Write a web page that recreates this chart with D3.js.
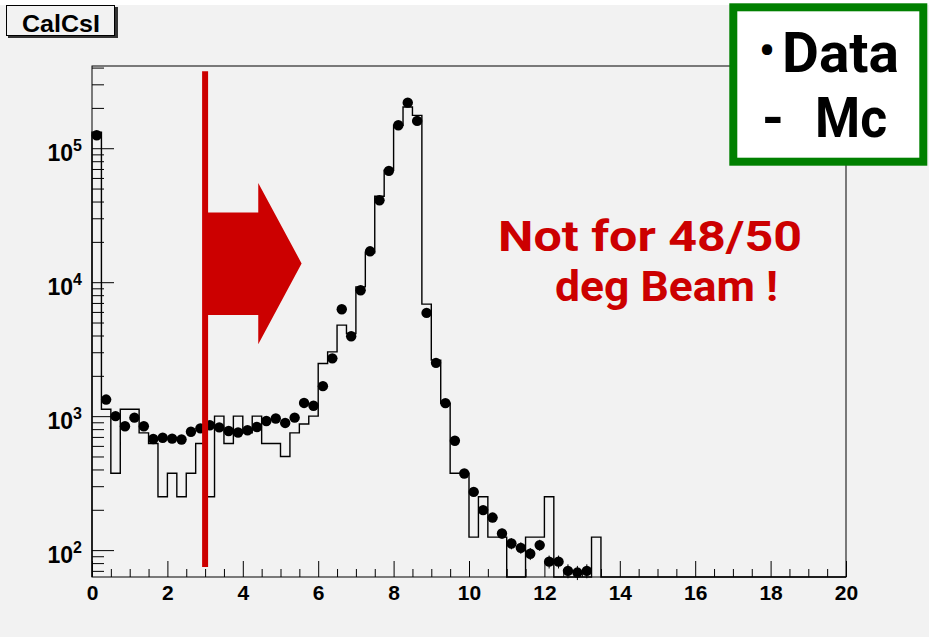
<!DOCTYPE html>
<html>
<head>
<meta charset="utf-8">
<script src="https://cdn.jsdelivr.net/npm/d3@7"></script>
<style>
  body { margin: 0; background: #fff; }
  svg { display: block; }
</style>
</head>
<body>
<svg id="chart" width="929" height="637"></svg>
<script>
// histogram binning: 80 bins of 0.25 from 0 to 20
var binWidth = 0.25, nBins = 80;

// data counts per bin (bins 0..52, nothing after)
var dataCounts = [125000, 1330, 1000, 840, 975, 840, 675, 690, 680, 670,
  765, 810, 855, 825, 775, 755, 785, 830, 920, 960,
  890, 975, 1255, 1195, 1675, 2700, 6280, 3950, 8700, 17000,
  40900, 67800, 148500, 219000, 160000, 5900, 2500, 1250, 655, 373,
  272, 199, 175, 133, 112, 104, 94, 109, 82, 82,
  70, 68, 70];

// MC (scaled) per bin, bins 0..53, rest empty
var mcCounts = [132000, 1125, 375, 1125, 1125, 750, 625, 250, 375, 250,
  375, 625, 250, 1000, 625, 1000, 750, 1000, 625, 625,
  500, 750, 875, 1000, 2470, 3020, 4780, 4140, 9230, 16600,
  43800, 68500, 148500, 203000, 176000, 6860, 2620, 1250, 375, 375,
  125, 250, 125, 125, 0, 0, 125, 125, 250, 0,
  0, 0, 0, 125];

var xMajor = [0, 2, 4, 6, 8, 10, 12, 14, 16, 18, 20];
var yMajor = [100, 1000, 10000, 100000];
var yExp = {100: "2", 1000: "3", 10000: "4", 100000: "5"};

var svg = d3.select("#chart");
var W = 929, H = 637;
var margin = {top: 66, right: 83, bottom: 60, left: 92};
var x0 = margin.left, x1 = W - margin.right, yTop = margin.top, yBot = H - margin.bottom;

var xScale = d3.scaleLinear().domain([0, 20]).range([x0, x1]);
var yScale = d3.scaleLog().domain([63, 411000]).range([yBot, yTop]);

var red = "#cc0000";

// canvas
svg.append("rect").attr("width", W).attr("height", H).attr("fill", "#fff");
svg.append("rect").attr("y", 5).attr("width", W).attr("height", H - 5).attr("fill", "#f2f2f2");

// title box
svg.append("rect").attr("x", 8).attr("y", 7).attr("width", 110).attr("height", 31).attr("fill", "#333");
svg.append("rect").attr("x", 6.5).attr("y", 5.5).attr("width", 108).attr("height", 30)
  .attr("fill", "#f2f2f2").attr("stroke", "#000").attr("stroke-width", 1);
svg.append("text").attr("x", 22).attr("y", 31.5)
  .attr("font-family", "'Liberation Sans', Arial, Helvetica, sans-serif")
  .attr("font-weight", "bold").attr("font-size", 24.5)
  .attr("textLength", 78).attr("lengthAdjust", "spacingAndGlyphs")
  .text("CalCsI");

// frame
svg.append("rect").attr("x", x0).attr("y", yTop).attr("width", x1 - x0).attr("height", yBot - yTop)
  .attr("fill", "none").attr("stroke", "#000").attr("stroke-width", 1);

// x axis: major + minor ticks (inward)
var gx = svg.append("g").attr("transform", "translate(0," + yBot + ")")
  .call(d3.axisBottom(xScale).tickValues(xMajor).tickSizeInner(-16).tickSizeOuter(0).tickPadding(8)
    .tickFormat(d3.format("d")));
gx.select(".domain").remove();
gx.selectAll("text").attr("font-family", "'Liberation Sans', Arial, sans-serif")
  .attr("font-weight", "bold").attr("font-size", 21).attr("fill", "#000");
gx.selectAll("line").attr("stroke", "#000");

var xMinor = d3.range(0, 20.001, 0.5).filter(function(v){ return v % 2 !== 0; });
var gxm = svg.append("g").attr("transform", "translate(0," + yBot + ")")
  .call(d3.axisBottom(xScale).tickValues(xMinor).tickSizeInner(-8).tickSizeOuter(0).tickFormat(""));
gxm.select(".domain").remove();
gxm.selectAll("line").attr("stroke", "#000");

// y axis (log): major + minor ticks (inward)
var gy = svg.append("g").attr("transform", "translate(" + x0 + ",0)")
  .call(d3.axisLeft(yScale).tickValues(yMajor).tickSizeInner(-22).tickSizeOuter(0).tickPadding(10)
    .tickFormat(""));
gy.select(".domain").remove();
gy.selectAll("line").attr("stroke", "#000");
gy.selectAll(".tick text").each(function(d){
  var t = d3.select(this);
  t.attr("font-family", "'Liberation Sans', Arial, sans-serif").attr("font-weight", "bold")
   .attr("font-size", 23).attr("fill", "#000").attr("dy", "0.52em");
  t.append("tspan").text("10");
  t.append("tspan").attr("font-size", 16).attr("dy", -10).text(yExp[d]);
});

var yMinor = yScale.ticks().filter(function(v){
  var l = Math.log10(v); return Math.abs(l - Math.round(l)) > 1e-6;
});
var gym = svg.append("g").attr("transform", "translate(" + x0 + ",0)")
  .call(d3.axisLeft(yScale).tickValues(yMinor).tickSizeInner(-12).tickSizeOuter(0).tickFormat(""));
gym.select(".domain").remove();
gym.selectAll("line").attr("stroke", "#000");

// MC histogram (step line)
var histPts = [[xScale(0), yBot]];
for (var i = 0; i < nBins; i++) {
  var v = mcCounts[i] || 0;
  var yy = v > 0 ? yScale(v) : yBot;
  histPts.push([xScale(i * binWidth), yy], [xScale((i + 1) * binWidth), yy]);
}
histPts.push([xScale(20), yBot]);
svg.append("path").datum(histPts)
  .attr("d", d3.line())
  .attr("fill", "none").attr("stroke", "#000").attr("stroke-width", 1.4);

// data points with error bars
var pts = dataCounts.map(function(v, i){
  return {lo: i * binWidth, hi: (i + 1) * binWidth, c: (i + 0.5) * binWidth, v: v};
});
var gp = svg.append("g");
gp.selectAll(".ex").data(pts).enter().append("line")
  .attr("x1", function(d){ return xScale(d.lo); })
  .attr("x2", function(d){ return xScale(d.hi); })
  .attr("y1", function(d){ return yScale(d.v); })
  .attr("y2", function(d){ return yScale(d.v); })
  .attr("stroke", "#000").attr("stroke-width", 1);
gp.selectAll(".ey").data(pts).enter().append("line")
  .attr("x1", function(d){ return xScale(d.c); })
  .attr("x2", function(d){ return xScale(d.c); })
  .attr("y1", function(d){ return yScale(d.v + Math.sqrt(d.v)); })
  .attr("y2", function(d){ return yScale(Math.max(d.v - Math.sqrt(d.v), 1)); })
  .attr("stroke", "#000").attr("stroke-width", 1);
gp.selectAll("circle").data(pts).enter().append("circle")
  .attr("cx", function(d){ return xScale(d.c); })
  .attr("cy", function(d){ return yScale(d.v); })
  .attr("r", 5.2).attr("fill", "#000");

// red cut line and arrow
svg.append("line")
  .attr("x1", xScale(3)).attr("x2", xScale(3))
  .attr("y1", yScale(376000)).attr("y2", yScale(74.7))
  .attr("stroke", red).attr("stroke-width", 6);

var arrow = [[3, 33100], [4.41, 33100], [4.41, 55100], [5.56, 13800],
             [4.41, 3440], [4.41, 5680], [3, 5680]];
svg.append("path").datum(arrow)
  .attr("d", d3.line().x(function(d){ return xScale(d[0]); }).y(function(d){ return yScale(d[1]); }).curve(d3.curveLinearClosed))
  .attr("fill", red);

// annotation text
var handFont = "'Comic Sans MS', Roboto, 'DejaVu Sans', sans-serif";
svg.append("text").attr("x", 498).attr("y", 251)
  .attr("font-family", handFont).attr("font-weight", "bold").attr("font-size", 43)
  .attr("fill", red).attr("textLength", 304).attr("lengthAdjust", "spacingAndGlyphs")
  .text("Not for 48/50");
svg.append("text").attr("x", 555).attr("y", 301)
  .attr("font-family", handFont).attr("font-weight", "bold").attr("font-size", 43)
  .attr("fill", red).attr("textLength", 223).attr("lengthAdjust", "spacingAndGlyphs")
  .text("deg Beam !");

// legend box
svg.append("rect").attr("x", 733.3).attr("y", 7.3).attr("width", 190).attr("height", 154.4)
  .attr("fill", "#fff").attr("stroke", "#008000").attr("stroke-width", 8);
var dataText = svg.append("text").attr("y", 72)
  .attr("font-family", handFont).attr("font-weight", "bold").attr("font-size", 56).attr("fill", "#000");
dataText.append("tspan").attr("x", 759).attr("dy", -6).attr("font-size", 44).text("•");
dataText.append("tspan").attr("x", 782).attr("dy", 6).attr("textLength", 117)
  .attr("lengthAdjust", "spacingAndGlyphs").text("Data");
var mcText = svg.append("text").attr("y", 137)
  .attr("font-family", handFont).attr("font-weight", "bold").attr("font-size", 56).attr("fill", "#000");
mcText.append("tspan").attr("x", 762).attr("textLength", 22).attr("lengthAdjust", "spacingAndGlyphs").text("-");
mcText.append("tspan").attr("x", 815).attr("textLength", 72).attr("lengthAdjust", "spacingAndGlyphs").text(" Mc".trim());
</script>
</body>
</html>
